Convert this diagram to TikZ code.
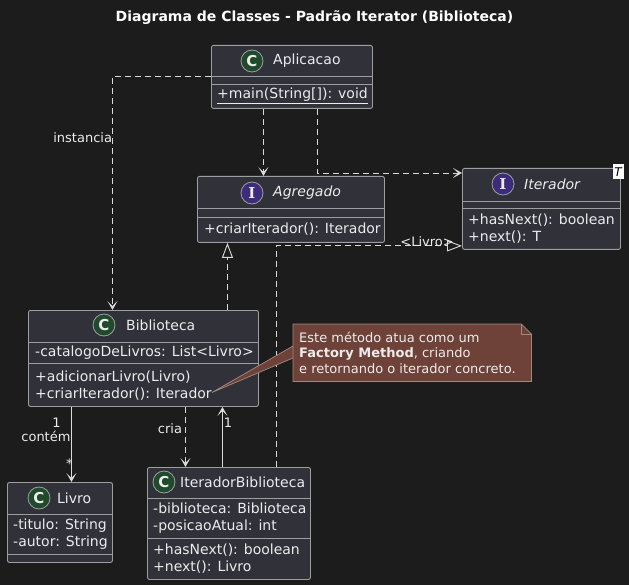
\documentclass[tikz,border=0pt]{standalone}
\usepackage{fontspec}
\setmainfont{DejaVu Sans}
\newfontfamily\letterfont{DejaVu Serif}
\usetikzlibrary{arrows.meta}
\definecolor{bg}{HTML}{1C1C1C}
\definecolor{boxfill}{HTML}{303139}
\definecolor{boxline}{HTML}{9E9E9E}
\definecolor{ink}{HTML}{ECECEC}
\definecolor{wire}{HTML}{DADADA}
\definecolor{classgreen}{HTML}{1F4B2C}
\definecolor{ifacepurple}{HTML}{3D2C7C}
\definecolor{notefill}{HTML}{6E4238}
\definecolor{noteline}{HTML}{A08A80}

\begin{document}
\begin{tikzpicture}[x=1pt,y=-1pt,
  cbox/.style={draw=boxline,fill=boxfill,rounded corners=2pt,anchor=north west,inner sep=0,line width=0.9pt},
  sep/.style={draw=boxline,line width=0.9pt},
  badge/.style={circle,draw=boxline,line width=0.8pt,minimum size=22pt,inner sep=0,text=ink,
    font=\bfseries\fontsize{15}{15}\selectfont},
  cbadge/.style={badge,fill=classgreen},
  ibadge/.style={badge,fill=ifacepurple,font=\letterfont\bfseries\fontsize{15}{15}\selectfont},
  cname/.style={anchor=west,inner sep=0,text=ink,font=\fontsize{14}{17}\selectfont},
  iname/.style={cname,font=\itshape\fontsize{14}{17}\selectfont},
  mem/.style={anchor=west,inner sep=0,align=left,text=ink,font=\fontsize{14}{17}\selectfont},
  lbl/.style={inner sep=0,text=ink,font=\fontsize{13}{15}\selectfont},
  dep/.style={draw=wire,line width=0.9pt,dash pattern=on 6pt off 4pt,
    -{Stealth[length=9pt,width=10pt,inset=5pt]}},
  assoc/.style={dep,solid},
  real/.style={draw=wire,line width=0.9pt,dash pattern=on 6pt off 4pt,
    -{Triangle[open,length=15pt,width=11pt]}},
  notebox/.style={draw=noteline,fill=notefill,line width=0.7pt},
  notetext/.style={anchor=west,inner sep=0,align=left,text=ink,font=\fontsize{13}{15.5}\selectfont}
]
\fill[bg] (0,0) rectangle (629,585);
\useasboundingbox (0,0) rectangle (629,585);

\node[text=white,font=\bfseries\fontsize{14}{16}\selectfont] (title) at (314.5,18)
  {Diagrama de Classes - Padrão Iterator (Biblioteca)};

% Aplicacao
\node[cbox,minimum width=161pt,minimum height=63pt] (aplic) at (211,45) {};
\draw[sep] (aplic.west |- 0,76) -- (aplic.east |- 0,76);
\draw[sep] (aplic.west |- 0,84) -- (aplic.east |- 0,84);
\node[cbadge] (aplicC) at (252,61) {C};
\node[cname] (aplicN) at (273,61) {Aplicacao};
\node[mem] (aplicM) at (217,96) {\underline{+main(String[]): void}};

% Agregado
\node[cbox,minimum width=187pt,minimum height=66pt] (agreg) at (197,176) {};
\draw[sep] (agreg.west |- 0,208) -- (agreg.east |- 0,208);
\draw[sep] (agreg.west |- 0,217) -- (agreg.east |- 0,217);
\node[ibadge] (agregC) at (252,193) {I};
\node[iname] (agregN) at (273,193) {Agregado};
\node[mem] (agregM) at (204,229.5) {+criarIterador(): Iterador};

% Iterador
\node[cbox,minimum width=158pt,minimum height=81pt] (iter) at (462,168) {};
\draw[sep] (iter.west |- 0,201) -- (iter.east |- 0,201);
\draw[sep] (iter.west |- 0,208) -- (iter.east |- 0,208);
\node[ibadge] (iterC) at (503,184) {I};
\node[iname] (iterN) at (524,184) {Iterador};
\node[mem] (iterM) at (468,229) {+hasNext(): boolean\\+next(): T};
\node[fill=white,text=black,inner sep=0,minimum width=11pt,minimum height=15pt,
  font=\itshape\fontsize{12}{12}\selectfont] (iterT) at (618,172) {T};

% Biblioteca
\node[cbox,minimum width=230pt,minimum height=96pt] (bib) at (28,310) {};
\draw[sep] (bib.west |- 0,342) -- (bib.east |- 0,342);
\draw[sep] (bib.west |- 0,363) -- (bib.east |- 0,363);
\node[cbadge] (bibC) at (104,325) {C};
\node[cname] (bibN) at (126,325) {Biblioteca};
\node[mem] (bibA) at (35,353) {-catalogoDeLivros: List<Livro>};
\node[mem] (bibM) at (35,385.5) {+adicionarLivro(Livro)\\+criarIterador(): Iterador};

% Livro
\node[cbox,minimum width=105pt,minimum height=80pt] (livro) at (7,482) {};
\draw[sep] (livro.west |- 0,514) -- (livro.east |- 0,514);
\draw[sep] (livro.west |- 0,554) -- (livro.east |- 0,554);
\node[cbadge] (livroC) at (39,498) {C};
\node[cname] (livroN) at (57,498) {Livro};
\node[mem] (livroA) at (13,534.5) {-titulo: String\\-autor: String};

% IteradorBiblioteca
\node[cbox,minimum width=163pt,minimum height=112pt] (itb) at (147,467) {};
\draw[sep] (itb.west |- 0,498) -- (itb.east |- 0,498);
\draw[sep] (itb.west |- 0,538) -- (itb.east |- 0,538);
\node[cbadge] (itbC) at (164,482) {C};
\node[cname] (itbN) at (180,482) {IteradorBiblioteca};
\node[mem] (itbA) at (153,518) {-biblioteca: Biblioteca\\-posicaoAtual: int};
\node[mem] (itbM) at (153,559) {+hasNext(): boolean\\+next(): Livro};

% relations
\draw[dep] (aplic.west) -| ([xshift=-31pt]bib.north)
  node[lbl,pos=0.63,anchor=east] {instancia};
\draw[dep] ([xshift=-28.5pt]aplic.south) -- ([xshift=-28.5pt]aplic.south |- agreg.north);
\draw[dep] ([xshift=25.5pt]aplic.south) |- ([yshift=-5pt]iter.north west);
\draw[real] ([xshift=84pt]bib.north) -- ([xshift=84pt]bib.north |- agreg.south);
\draw[real] ([xshift=47.5pt]itb.north) |- ([yshift=4pt]iter.south west)
  node[lbl,pos=0.906,yshift=4.5pt] {<Livro>};
\draw[assoc] ([xshift=-72pt]bib.south) -- ([xshift=-72pt]bib.south |- livro.north)
  node[lbl,pos=0.21,xshift=-15pt] {1}
  node[lbl,pos=0.39,xshift=-25.5pt] {contém}
  node[lbl,pos=0.76,xshift=-2pt] {*};
\draw[dep] ([xshift=42pt]bib.south) -- ([xshift=42pt]bib.south |- itb.north)
  node[lbl,pos=0.36,anchor=east,xshift=-3pt] {cria};
\draw[assoc] ([xshift=-6.5pt]itb.north) -- ([xshift=-6.5pt]itb.north |- bib.south)
  node[lbl,pos=0.74,anchor=west,xshift=1pt] {1};

% note
\node[minimum width=238pt,minimum height=57pt,anchor=north west,inner sep=0] (note) at (293,324) {};
\draw[notebox] ([yshift=-22pt]note.north west) -- ([yshift=-7pt]bibM.east) -- ([yshift=-34pt]note.north west);
\draw[notebox] (note.north west) -- ([xshift=-10pt]note.north east) -- ([yshift=-10pt]note.north east)
  -- (note.south east) -- (note.south west) -- cycle;
\draw[draw=noteline,line width=0.7pt] ([xshift=-10pt]note.north east) |- ([yshift=-10pt]note.north east);
\node[notetext] (noteT) at (299,352.5)
  {Este método atua como um\\\textbf{Factory Method}, criando\\e retornando o iterador concreto.};
\end{tikzpicture}
\end{document}
